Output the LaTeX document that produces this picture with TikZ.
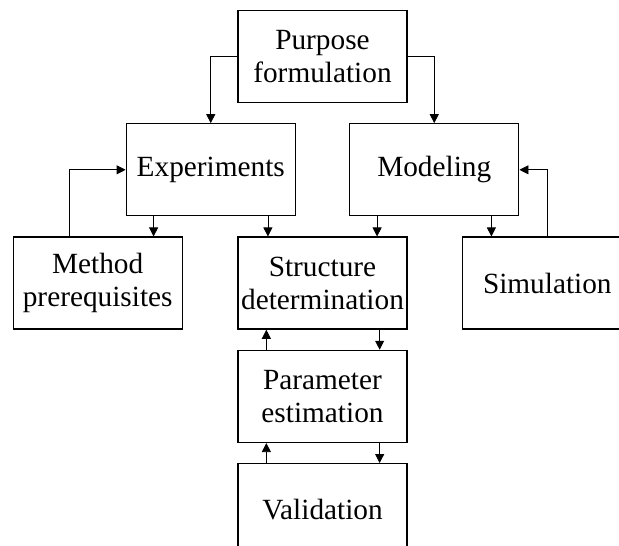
\documentclass[tikz,border=0pt]{standalone}
\usepackage{fontspec}
\setmainfont{Liberation Serif}
\usetikzlibrary{positioning, arrows.meta}

\begin{document}
\begin{tikzpicture}[
  x=1pt, y=1pt,
  node distance=20pt and 54.5pt,
  box/.style={rectangle, draw, line width=1.3pt,
              minimum width=169pt, minimum height=92pt,
              inner sep=0pt, align=center,
              font=\fontsize{29.3}{33}\selectfont},
  arr/.style={-{Triangle[width=9pt,length=9pt]}, line width=0.8pt},
]
% Marco de la figura (recorta las cajas de los bordes)
\clip (0,0) rectangle (619,-546);
% Caja superior
\node[box] (purpose) at (322.5,-56.5) {Purpose\\formulation};
% Segunda fila
\node[box, below=20pt of purpose, xshift=-111.75pt] (exper) {Experiments};
\node[box, below=20pt of purpose, xshift=111.75pt]  (model) {Modeling};
% Tercera fila
\node[box, below=20pt of exper, xshift=111.75pt] (struct) {Structure\\determination};
\node[box, left=of struct]  (method) {Method\\prerequisites};
\node[box, right=of struct] (simul)  {Simulation};
% Columna central
\node[box, below=of struct] (param) {Parameter\\estimation};
\node[box, below=of param]  (valid) {Validation};
% Flechas desde la caja superior
\draw[arr] (purpose.west) -| (exper.north);
\draw[arr] (purpose.east) -| (model.north);
% Flechas segunda fila a tercera fila
\draw[arr] ([xshift=28pt]exper.south west) -- ([xshift=28pt]exper.south west |- method.north);
\draw[arr] ([xshift=-28pt]exper.south east) -- ([xshift=-28pt]exper.south east |- struct.north);
\draw[arr] ([xshift=28pt]model.south west) -- ([xshift=28pt]model.south west |- struct.north);
\draw[arr] ([xshift=-28pt]model.south east) -- ([xshift=-28pt]model.south east |- simul.north);
% Retroalimentación lateral
\draw[arr] ([xshift=-28pt]method.north) |- (exper.west);
\draw[arr] (simul.north) |- (model.east);
% Columna central: ida y vuelta
\draw[arr] ([xshift=-28pt]struct.south east) -- ([xshift=-28pt]param.north east);
\draw[arr] ([xshift=29pt]param.north west) -- ([xshift=29pt]struct.south west);
\draw[arr] ([xshift=-28pt]param.south east) -- ([xshift=-28pt]valid.north east);
\draw[arr] ([xshift=29pt]valid.north west) -- ([xshift=29pt]param.south west);
\end{tikzpicture}
\end{document}
